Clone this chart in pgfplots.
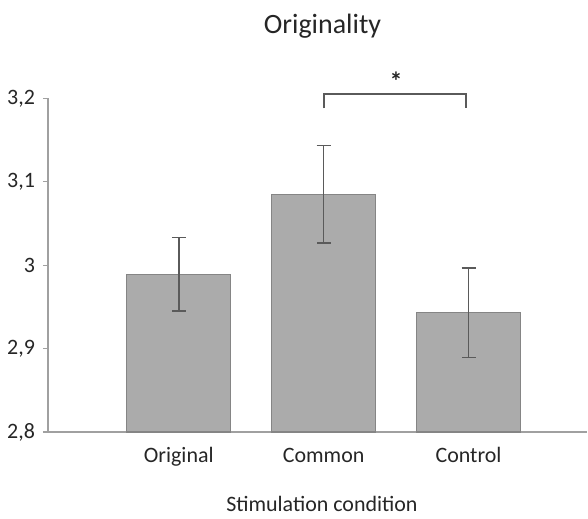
\documentclass[border=0pt]{standalone}
\usepackage{pgfplots}
\pgfplotsset{compat=1.18}
\usepackage{fontspec}
\setmainfont{Carlito}
\definecolor{barfill}{HTML}{ABABAB}
\definecolor{barline}{HTML}{858585}
\definecolor{errcol}{HTML}{5A5A5A}
\definecolor{axisgray}{HTML}{A0A0A0}
\definecolor{textgray}{HTML}{262626}
\begin{document}
\begin{tikzpicture}
\begin{axis}[
  scale only axis, width=270pt, height=167pt,
  xmin=-0.903, xmax=2.82, ymin=2.8, ymax=3.2,
  axis x line*=bottom, axis y line*=left,
  axis line style={draw=axisgray, line width=0.7pt, -},
  xtick={0,1,2}, xticklabels={Original,Common,Control},
  x tick style={draw=none},
  ytick={2.8,2.9,3,3.1,3.2},
  y tick style={draw=axisgray, line width=0.6pt},
  tick align=outside, major tick length=2.5pt,
  yticklabel={\pgfmathprintnumber{\tick}},
  y tick label style={/pgf/number format/.cd, use comma, fixed, precision=1, assume math mode=true, /tikz/.cd, font=\fontsize{11}{13}\selectfont, text=textgray, xshift=-0.5pt},
  x tick label style={font=\fontsize{11}{13}\selectfont, text=textgray, anchor=base, yshift=-12.75pt},
  xlabel={Stimulation condition},
  xlabel style={at={(rel axis cs:0.508,0)}, anchor=base, yshift=-39.75pt, font=\fontsize{11}{13}\selectfont, text=textgray},
  title={Originality},
  title style={at={(rel axis cs:0.509,1)}, anchor=base, yshift=26.6pt, font=\fontsize{14}{16}\selectfont, text=textgray},
  clip=false,
]
\addplot[ybar, bar width=52pt, fill=barfill, draw=barline, line width=0.6pt,
  error bars/.cd, y dir=both, y explicit,
  error bar style={draw=errcol, line width=0.8pt},
  error mark options={rotate=90, mark size=3.5pt, draw=errcol, line width=0.8pt}]
  coordinates {
    (0,2.989) +- (0,0.044)
    (1,3.085) +- (0,0.0585)
    (2,2.943) +- (0,0.0535)
  };
\draw[errcol, line width=1pt] (axis cs:1,3.188) -- (axis cs:1,3.205) -- (axis cs:1.98,3.205) -- (axis cs:1.98,3.188);
\node[text=textgray, font=\fontsize{13}{15}\selectfont\bfseries] at (axis cs:1.5,3.221) {*};
\end{axis}
\path ([xshift=-24pt,yshift=-40.25pt]current axis.south west) rectangle ([yshift=49.25pt]current axis.north east);
\end{tikzpicture}
\end{document}
